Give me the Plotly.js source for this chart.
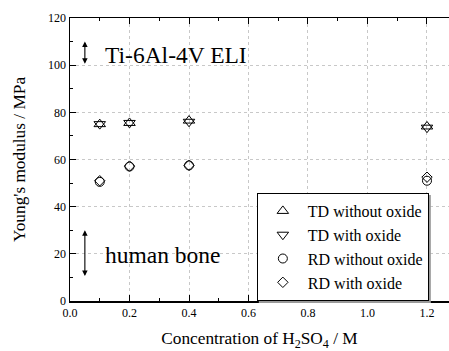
<!DOCTYPE html>
<html>
<head>
<meta charset="utf-8">
<script src="https://cdn.plot.ly/plotly-3.0.1.min.js"></script>
<style>html,body{margin:0;padding:0;background:#fff;}#chart{width:449px;height:351px;}</style>
</head>
<body>
<div id="chart"></div>
<script>
// Data
const concentration = [0.1, 0.2, 0.4, 1.2];
const tdWithoutOxide = [75.0, 75.5, 76.5, 74.0];
const tdWithOxide = [75.0, 75.5, 76.0, 73.5];
const rdWithoutOxide = [50.5, 57.0, 57.5, 51.0];
const rdWithOxide = [51.0, 57.2, 57.5, 52.5];
const seriesNames = ["TD without oxide", "TD with oxide", "RD without oxide", "RD with oxide"];
const seriesSymbols = ["triangle-up-open", "triangle-down-open", "circle-open", "diamond-open"];
const seriesSizes = [10, 10, 9, 8];
// Reference ranges (Ti alloy and human bone)
const refLabels = ["Ti-6Al-4V ELI", "human bone"];
const refLow = [100, 10];
const refHigh = [110, 30];
const refX = 0.05;

const FONT = "Liberation Serif";
const allSeries = [tdWithoutOxide, tdWithOxide, rdWithoutOxide, rdWithOxide];
const traces = allSeries.map((ys, i) => ({
  x: concentration, y: ys, name: seriesNames[i], type: "scatter", mode: "markers",
  marker: {symbol: seriesSymbols[i], size: seriesSizes[i], color: "#000", line: {width: 1, color: "#000"}},
  cliponaxis: false
}));

const annotations = [];
refLabels.forEach((lab, i) => {
  annotations.push({x: refX, y: refHigh[i], ax: refX, ay: refLow[i], axref: "x", ayref: "y", xref: "x", yref: "y",
    text: "", showarrow: true, arrowside: "end+start", arrowhead: 2, arrowsize: 1, arrowwidth: 1.1, arrowcolor: "#000"});
  annotations.push({x: refX + 0.06, y: (refLow[i] + refHigh[i]) / 2 - 0.5, xref: "x", yref: "y", text: lab,
    showarrow: false, xanchor: "left", yanchor: "middle", font: {family: FONT, size: 23.5, color: "#000"}});
});

const LEG_X = 0.493, LEG_Y = 0.3816;
const layout = {
  width: 449, height: 351,
  margin: {l: 70, r: 0, t: 18, b: 50},
  paper_bgcolor: "#fff", plot_bgcolor: "#fff",
  font: {family: FONT, color: "#000"},
  showlegend: true,
  legend: {x: LEG_X, y: LEG_Y, xanchor: "left", yanchor: "top", bgcolor: "#fff", bordercolor: "#000", borderwidth: 1,
    font: {family: FONT, size: 16, color: "#000"}, tracegroupgap: 0, itemsizing: "trace", itemwidth: 40},
  xaxis: {
    range: [0, 1.274], tick0: 0, dtick: 0.2, tickformat: ".1f",
    showline: true, linecolor: "#000", linewidth: 1.5, mirror: "ticks",
    ticks: "inside", ticklen: 6, tickcolor: "#000", tickwidth: 1,
    minor: {dtick: 0.1, ticks: "inside", ticklen: 3, tickcolor: "#000", showgrid: false},
    showgrid: true, gridcolor: "#c8c8c8", griddash: "dot", gridwidth: 1,
    zeroline: false,
    tickfont: {family: FONT, size: 12, color: "#000"},
    title: {text: "Concentration of H<sub>2</sub>SO<sub>4</sub> / M", font: {family: FONT, size: 17.3, color: "#000"}, standoff: 18}
  },
  yaxis: {
    range: [0, 120], tick0: 0, dtick: 20,
    showline: true, linecolor: "#000", linewidth: 1.5,
    ticks: "inside", ticklen: 6, tickcolor: "#000", tickwidth: 1,
    minor: {dtick: 10, ticks: "inside", ticklen: 3, tickcolor: "#000", showgrid: false},
    showgrid: true, gridcolor: "#c8c8c8", griddash: "dot", gridwidth: 1,
    zeroline: false,
    tickfont: {family: FONT, size: 12, color: "#000"},
    title: {text: "Young's modulus / MPa", font: {family: FONT, size: 17.3, color: "#000"}, standoff: 18}
  },
  annotations: annotations
};

const gd = document.getElementById("chart");
Plotly.newPlot(gd, traces, layout, {displayModeBar: false, staticPlot: true}).then(() => {
  // soft shadow behind the legend box, sized from the legend Plotly drew
  const fl = gd._fullLayout;
  const w = fl.legend._width, h = fl.legend._height;
  const pw = fl._size.w, ph = fl._size.h;
  const off = 2;
  const x0 = LEG_X + off / pw, x1 = LEG_X + (w + off) / pw;
  const y0 = LEG_Y - off / ph, y1 = LEG_Y - (h + off) / ph;
  return Plotly.relayout(gd, {shapes: [{type: "rect", xref: "paper", yref: "paper", x0: x0, x1: x1, y0: y0, y1: y1,
    fillcolor: "#9a9a9a", line: {width: 0}, layer: "above"}]});
});
</script>
</body>
</html>
